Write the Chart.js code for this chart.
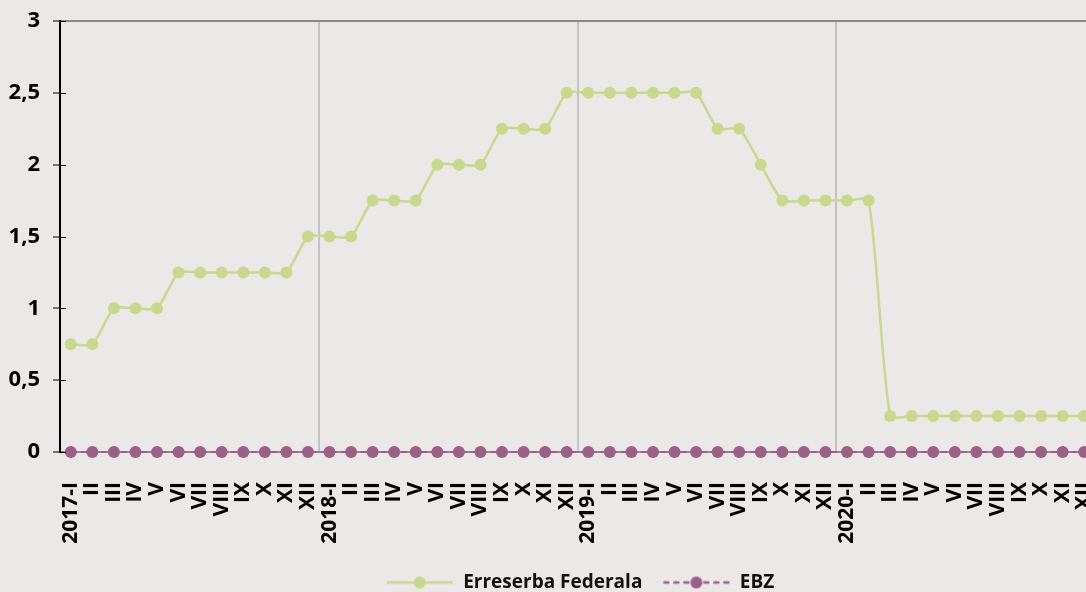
<!DOCTYPE html>
<html>
<head>
<meta charset="utf-8">
<script src="https://cdn.jsdelivr.net/npm/chart.js@4/dist/chart.umd.min.js"></script>
<style>
  html, body { margin: 0; padding: 0; background: #ebe8e8; overflow: hidden; }
  #wrap { position: relative; width: 1160px; height: 602px; }
</style>
</head>
<body>
<div id="wrap"><canvas id="c"></canvas></div>
<script>
const months = ['I','II','III','IV','V','VI','VII','VIII','IX','X','XI','XII'];
const years = ['2017','2018','2019','2020'];
const categories = [];
years.forEach(y => months.forEach((m, i) => categories.push(i === 0 ? y + '-' + m : m)));

const fedValues = [
  0.75, 0.75, 1, 1, 1, 1.25, 1.25, 1.25, 1.25, 1.25, 1.25, 1.5,
  1.5, 1.5, 1.75, 1.75, 1.75, 2, 2, 2, 2.25, 2.25, 2.25, 2.5,
  2.5, 2.5, 2.5, 2.5, 2.5, 2.5, 2.25, 2.25, 2, 1.75, 1.75, 1.75,
  1.75, 1.75, 0.25, 0.25, 0.25, 0.25, 0.25, 0.25, 0.25, 0.25, 0.25, 0.25
];
const ebzValues = [
  0, 0, 0, 0, 0, 0, 0, 0, 0, 0, 0, 0,
  0, 0, 0, 0, 0, 0, 0, 0, 0, 0, 0, 0,
  0, 0, 0, 0, 0, 0, 0, 0, 0, 0, 0, 0,
  0, 0, 0, 0, 0, 0, 0, 0, 0, 0, 0, 0
];
const yTicks = [0, 0.5, 1, 1.5, 2, 2.5, 3];
const seriesNames = ['Erreserba Federala', 'EBZ'];

const GREEN = '#c8d98b';
const PURPLE = '#9c5f86';
const FONT = '"Open Sans", sans-serif';

function legendIcon(color, dashed) {
  const cv = document.createElement('canvas');
  cv.width = 68; cv.height = 14;
  const g = cv.getContext('2d');
  g.strokeStyle = color; g.lineWidth = 2.5;
  if (dashed) g.setLineDash([6, 4]);
  g.beginPath(); g.moveTo(1, 7); g.lineTo(67, 7); g.stroke();
  g.setLineDash([]);
  g.fillStyle = color;
  g.beginPath(); g.arc(34, 7, 6, 0, Math.PI * 2); g.fill();
  return cv;
}
const icons = [legendIcon(GREEN, false), legendIcon(PURPLE, true)];

const innerTicks = {
  id: 'innerTicks',
  afterDatasetsDraw(chart) {
    const y = chart.scales.y, ctx = chart.ctx, left = chart.chartArea.left;
    ctx.save();
    ctx.strokeStyle = '#000'; ctx.lineWidth = 1;
    y.ticks.forEach(t => {
      const py = Math.round(y.getPixelForValue(t.value)) + 0.5;
      ctx.beginPath(); ctx.moveTo(left, py); ctx.lineTo(left + 6, py); ctx.stroke();
    });
    ctx.restore();
  }
};

new Chart(document.getElementById('c'), {
  type: 'line',
  data: {
    labels: categories,
    datasets: [
      {
        label: seriesNames[0], data: fedValues,
        borderColor: GREEN, backgroundColor: GREEN, borderWidth: 2.5,
        pointRadius: 6, pointHoverRadius: 6, pointBorderWidth: 0,
        pointBackgroundColor: GREEN, tension: 0.2, order: 2
      },
      {
        label: seriesNames[1], data: ebzValues,
        borderColor: PURPLE, backgroundColor: PURPLE, borderWidth: 2,
        borderDash: [6, 4],
        pointRadius: 6, pointHoverRadius: 6, pointBorderWidth: 0,
        pointBackgroundColor: PURPLE, tension: 0, order: 1
      }
    ]
  },
  options: {
    responsive: true,
    maintainAspectRatio: false,
    animation: false,
    devicePixelRatio: 1,
    clip: false,
    layout: { padding: { top: 21, left: 0, right: 0, bottom: 0 } },
    plugins: {
      tooltip: { enabled: false },
      legend: {
        position: 'bottom',
        labels: {
          usePointStyle: true,
          pointStyleWidth: 68,
          padding: 20,
          color: '#111',
          font: { family: FONT, size: 19, weight: 'bold' },
          generateLabels(chart) {
            return chart.data.datasets.map((ds, i) => ({
              text: ds.label, pointStyle: icons[i], datasetIndex: i,
              fillStyle: ds.borderColor, strokeStyle: ds.borderColor,
              lineWidth: 0, hidden: false, fontColor: '#111'
            }));
          }
        }
      }
    },
    scales: {
      x: {
        offset: true,
        grid: {
          offset: true,
          drawTicks: false,
          lineWidth: 2,
          color: ctx => (ctx.index > 0 && ctx.index % 12 === 0) ? '#c3c3c3' : 'rgba(0,0,0,0)'
        },
        border: { color: '#8a8a8a', width: 2 },
        ticks: {
          autoSkip: false, maxRotation: 90, minRotation: 90,
          padding: 30, color: '#000',
          font: { family: FONT, size: 21, weight: 'bold' }
        },
        afterFit(scale) { scale.height = 101; }
      },
      y: {
        min: 0, max: 3,
        afterBuildTicks(scale) { scale.ticks = yTicks.map(v => ({ value: v })); },
        grid: {
          drawTicks: true, tickLength: 7, tickColor: '#000', tickWidth: 1,
          lineWidth: 2,
          color: ctx => (ctx.tick && ctx.tick.value === 3) ? '#8a8a8a' : 'rgba(0,0,0,0)'
        },
        border: { color: '#000', width: 2 },
        ticks: {
          padding: 13, color: '#000',
          font: { family: FONT, size: 22, weight: 'bold', lineHeight: 1 },
          callback: v => String(v).replace('.', ',')
        },
        afterFit(scale) { scale.width = 60; scale.paddingTop = 0; scale.paddingBottom = 0; }
      },
      yRight: {
        position: 'right',
        display: true,
        grid: { display: false, drawTicks: false },
        border: { display: false },
        ticks: { display: false },
        afterFit(scale) { scale.width = 65; }
      }
    }
  },
  plugins: [innerTicks]
});
</script>
</body>
</html>
